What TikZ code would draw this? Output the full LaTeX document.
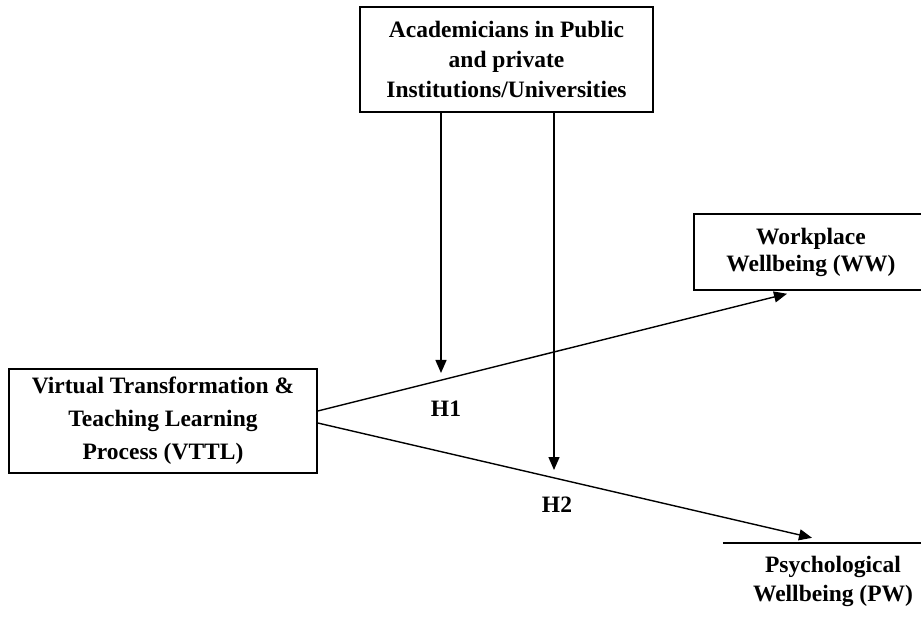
\documentclass[tikz,border=0pt]{standalone}
\usepackage{fontspec}
\setmainfont{Liberation Serif}
\usetikzlibrary{arrows.meta}
\tikzset{
  box/.style={draw, line width=1.5pt, align=center, inner sep=0pt, font=\bfseries\fontsize{23.5}{30}\selectfont},
  nobox/.style={align=center, inner sep=0pt, font=\bfseries\fontsize{23.5}{29}\selectfont},
  arr/.style={line width=1.4pt, -{Triangle[length=13pt,width=11pt]}},
  hlab/.style={font=\bfseries\fontsize{23.5}{28}\selectfont}
}
\begin{document}
\begin{tikzpicture}[x=1pt,y=-1pt]
\useasboundingbox (0,0) rectangle (921,617);
\clip (0,0) rectangle (921,617);
\fill[white] (0,0) rectangle (921,617);
\node[box, minimum width=293pt, minimum height=105pt] (acad) at (506.5,59.5)
  {Academicians in Public\\and private\\Institutions/Universities};
\node[box, minimum width=308pt, minimum height=104pt, font=\bfseries\fontsize{23.5}{33}\selectfont] (vttl) at (163,421)
  {Virtual Transformation \&\\Teaching Learning\\Process (VTTL)};
\node[box, minimum width=234pt, minimum height=76pt, font=\bfseries\fontsize{23.5}{27}\selectfont] (ww) at (811,252)
  {Workplace\\Wellbeing (WW)};
\node[nobox, minimum width=220pt, minimum height=77pt] (pw) at (833,581.5)
  {Psychological\\Wellbeing (PW)};
\draw[line width=1.5pt] (pw.north west) -- (pw.north east);
\coordinate (t1) at (441,373);
\coordinate (t2) at (554,470);
\draw[arr] (acad.south -| t1) -- (t1);
\draw[arr] (acad.south -| t2) -- (t2);
\draw[arr] ([yshift=10pt]vttl.east) -- ([xshift=-24pt,yshift=-3pt]ww.south);
\draw[arr] ([yshift=-2pt]vttl.east) -- ([xshift=-21pt,yshift=5pt]pw.north);
\node[hlab] (h1) at (446,409) {H1};
\node[hlab] (h2) at (557,505) {H2};
\end{tikzpicture}
\end{document}
